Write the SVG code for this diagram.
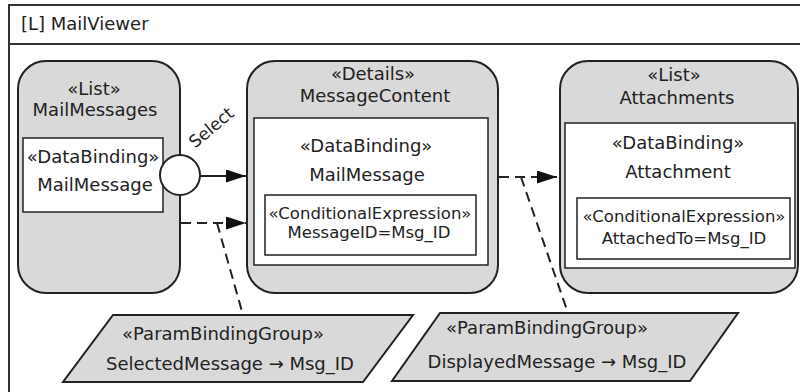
<svg xmlns="http://www.w3.org/2000/svg" width="800" height="392" viewBox="0 0 800 392">
<defs>
<style>
text{font-family:"DejaVu Sans","Liberation Sans",sans-serif;fill:#222;font-size:18px;text-anchor:middle}
.node{fill:#d9d9d9;stroke:#222;stroke-width:2}
.box{fill:#fff;stroke:#222;stroke-width:1.5}
.small{font-size:16.5px}
.conn{stroke:#222;stroke-width:2;fill:none}
.dash{stroke-dasharray:10 6}
</style>
<marker id="arr" markerUnits="userSpaceOnUse" markerWidth="20" markerHeight="14" refX="20" refY="6.5" orient="auto">
<path d="M0,0 L20,6.5 L0,13 z" fill="#111"/>
</marker>
</defs>
<rect width="800" height="392" fill="#fff"/>
<g id="frame">
<rect x="9" y="5" width="800" height="400" fill="#fff" stroke="#333" stroke-width="2"/>
<line x1="9" y1="44" x2="800" y2="44" stroke="#333" stroke-width="2"/>
<text x="21" y="30" style="text-anchor:start">[L] MailViewer</text>
</g>
<g id="MailMessages">
<rect class="node" x="18" y="61" width="162" height="232" rx="28"/>
<text x="94" y="95">«List»</text>
<text x="95" y="116">MailMessages</text>
<rect class="box" x="23" y="138" width="140" height="74"/>
<text x="93" y="163">«DataBinding»</text>
<text x="95" y="191">MailMessage</text>
</g>
<g id="MessageContent">
<rect class="node" x="247" y="61" width="251" height="232" rx="28"/>
<text x="373" y="80">«Details»</text>
<text x="375" y="102">MessageContent</text>
<rect class="box" x="254" y="118" width="234" height="147"/>
<text x="366" y="152">«DataBinding»</text>
<text x="367" y="181">MailMessage</text>
<rect class="box" x="265" y="195" width="211" height="60"/>
<text class="small" x="370" y="219">«ConditionalExpression»</text>
<text class="small" x="369" y="238">MessageID=Msg_ID</text>
</g>
<g id="Attachments">
<rect class="node" x="560" y="61" width="238" height="232" rx="28"/>
<text x="674" y="81">«List»</text>
<text x="677" y="104">Attachments</text>
<rect class="box" x="565" y="123" width="230" height="145"/>
<text x="678" y="149">«DataBinding»</text>
<text x="678" y="178">Attachment</text>
<rect class="box" x="577" y="198" width="213" height="61"/>
<text class="small" x="684" y="222">«ConditionalExpression»</text>
<text class="small" x="684" y="244">AttachedTo=Msg_ID</text>
</g>
<g id="SelectedParam">
<polygon class="node" points="113,315 413,315 363,382 63,382"/>
<text x="223" y="340">«ParamBindingGroup»</text>
<text x="230" y="370">SelectedMessage → Msg_ID</text>
</g>
<g id="DisplayedParam">
<polygon class="node" points="440,313 738,313 690,381 392,381"/>
<text x="547" y="334">«ParamBindingGroup»</text>
<text x="557" y="368">DisplayedMessage → Msg_ID</text>
</g>
<g id="connectors">
<circle cx="180" cy="175" r="20" fill="#fff" stroke="#222" stroke-width="2"/>
<text x="215" y="132" style="font-size:17px" transform="rotate(-40 215 132)">Select</text>
<line class="conn" x1="200" y1="176" x2="246" y2="176" marker-end="url(#arr)"/>
<line class="conn dash" x1="181" y1="223" x2="246" y2="223" marker-end="url(#arr)"/>
<line class="conn dash" x1="217" y1="223" x2="243" y2="315" stroke-width="1.5"/>
<line class="conn dash" x1="499" y1="177" x2="557" y2="177" marker-end="url(#arr)"/>
<line class="conn dash" x1="521" y1="177" x2="568" y2="313" stroke-width="1.5"/>
</g>
</svg>
